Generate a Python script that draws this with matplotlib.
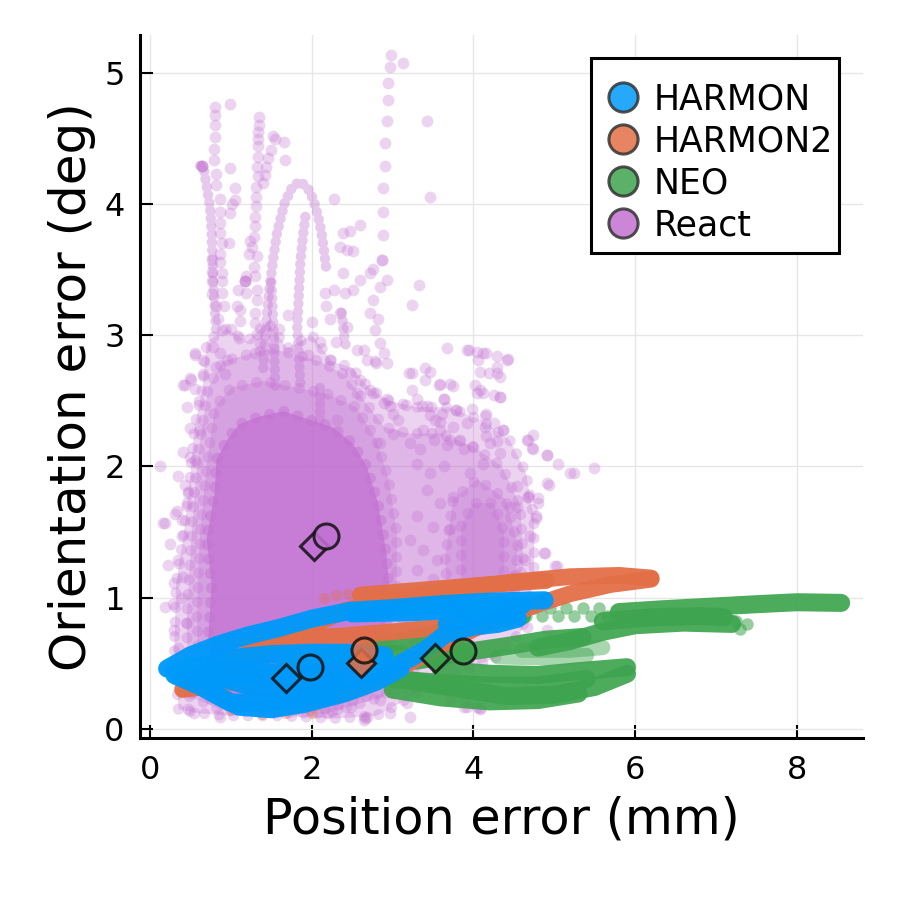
import matplotlib
matplotlib.use("Agg")
import matplotlib.pyplot as plt
from matplotlib.lines import Line2D
from matplotlib.patches import Rectangle

plt.rcParams['font.family'] = ['DejaVu Sans']

# ---------------- data ----------------
series_names = ["HARMON", "HARMON2", "NEO", "React"]
series_colors = ["#009AFA", "#E36F47", "#3EA44E", "#C271D2"]

# summary markers (circle / diamond) per series, same order as series_names
circle_x = [1.98, 2.65, 3.87, 2.18]
circle_y = [0.47, 0.60, 0.59, 1.47]
diamond_x = [1.68, 2.61, 3.52, 2.03]
diamond_y = [0.39, 0.50, 0.54, 1.39]

x_ticks = [0, 2, 4, 6, 8]
y_ticks = [0, 1, 2, 3, 4, 5]

# HARMON trajectories (dense bands)
harmon_tracks = [
    [(0.21, 0.46), (0.5, 0.56), (0.83, 0.64), (1.2, 0.71), (1.6, 0.77), (2.0, 0.84), (2.48, 0.9), (3.0, 0.92), (3.6, 0.95), (4.2, 0.97), (4.88, 0.98)],
    [(2.5, 0.88), (3.3, 0.89), (4.0, 0.92), (4.6, 0.94)],
    [(0.3, 0.44), (0.7, 0.49), (1.0, 0.54), (1.5, 0.57), (2.0, 0.58), (2.5, 0.58), (2.9, 0.56)],
    [(0.3, 0.41), (0.6, 0.33), (0.9, 0.23), (1.1, 0.17), (1.5, 0.15), (1.9, 0.19), (2.4, 0.27), (2.8, 0.36), (3.1, 0.46)],
    [(0.35, 0.45), (0.8, 0.4), (1.2, 0.33), (1.6, 0.29), (2.0, 0.31), (2.5, 0.38), (2.9, 0.44)],
    [(0.5, 0.48), (1.0, 0.47), (1.5, 0.43), (2.0, 0.45), (2.5, 0.5), (2.9, 0.52)],
    [(0.8, 0.27), (1.0, 0.2), (1.4, 0.2), (1.8, 0.24), (2.2, 0.25)],
    [(0.6, 0.38), (1.2, 0.4), (1.8, 0.37), (2.3, 0.35)],
    [(3.1, 0.5), (3.4, 0.6), (3.65, 0.72), (4.0, 0.78), (4.3, 0.8), (4.55, 0.84)],
    [(3.67, 0.8), (4.1, 0.86), (4.5, 0.88)],
]

# HARMON2 trajectories
harmon2_tracks = [
    [(0.45, 0.36), (0.9, 0.48), (1.4, 0.62), (1.9, 0.76), (2.4, 0.9), (3.0, 0.99), (3.7, 1.06), (4.5, 1.12), (5.2, 1.16), (5.8, 1.17), (6.2, 1.15)],
    [(6.2, 1.14), (5.7, 1.1), (5.2, 1.03), (4.8, 0.95), (4.4, 0.86), (4.0, 0.76), (3.6, 0.64), (3.2, 0.5), (2.8, 0.37), (2.4, 0.27), (2.0, 0.22)],
    [(1.2, 0.66), (1.8, 0.69), (2.4, 0.71), (3.0, 0.74), (3.7, 0.78)],
    [(2.6, 1.02), (3.4, 1.06), (4.2, 1.1), (4.9, 1.13)],
    [(0.4, 0.3), (0.8, 0.33), (1.3, 0.4)],
]
harmon2_points = [(1.38, 0.11), (1.67, 0.12), (0.49, 0.35), (0.45, 0.3), (2.15, 1.0), (2.3, 1.02),
                  (2.45, 1.03), (2.6, 1.0), (2.75, 1.02), (2.85, 0.98), (1.0, 0.15), (2.0, 0.12)]

# NEO trajectories
neo_tracks = [
    [(2.7, 0.62), (3.2, 0.68), (3.7, 0.75), (4.2, 0.82), (4.6, 0.86)],
    [(5.8, 0.89), (6.3, 0.91), (6.9, 0.93), (7.5, 0.95), (8.0, 0.965), (8.55, 0.96)],
    [(4.8, 0.62), (5.2, 0.67), (5.6, 0.74), (6.0, 0.79), (6.6, 0.81), (7.2, 0.8)],
    [(5.6, 0.82), (6.2, 0.85), (6.8, 0.86), (7.1, 0.85)],
    [(3.3, 0.52), (3.85, 0.58), (4.4, 0.63), (4.9, 0.68), (5.35, 0.70)],
    [(2.8, 0.42), (3.3, 0.36), (3.9, 0.3), (4.4, 0.25), (5.0, 0.26), (5.5, 0.32), (5.9, 0.42)],
    [(3.0, 0.3), (3.6, 0.24), (4.2, 0.21), (4.8, 0.22), (5.3, 0.27)],
    [(3.6, 0.45), (4.2, 0.42), (4.8, 0.41), (5.3, 0.44), (5.9, 0.47)],
    [(3.0, 0.38), (3.6, 0.35), (4.2, 0.33), (4.8, 0.33), (5.4, 0.38)],
    [(1.7, 0.55), (2.4, 0.56), (3.1, 0.57)],
]
neo_light_tracks = [
    [(4.3, 0.55), (4.9, 0.54), (5.4, 0.56)],
    [(4.6, 0.6), (5.2, 0.6), (5.6, 0.62)],
]
neo_points = [(4.65, 0.86), (4.85, 0.86), (5.05, 0.86), (5.25, 0.86), (5.45, 0.86), (5.65, 0.86),
              (4.75, 0.92), (4.95, 0.92), (5.15, 0.92), (5.35, 0.92), (5.55, 0.92),
              (7.25, 0.82), (7.38, 0.8), (7.3, 0.76)]

# React: density envelopes of the dense cloud (outer to inner), then the cluster near x=4
react_density_levels = [
    [(0.35, 0.15), (0.3, 0.6), (0.32, 1.1), (0.42, 1.5), (0.5, 1.95), (0.55, 2.3), (0.65, 2.6), (0.7, 2.95),
     (0.95, 3.05), (1.2, 2.95), (1.45, 3.1), (1.7, 2.9), (2.0, 3.0), (2.25, 2.8), (2.5, 2.75), (2.7, 2.6),
     (2.95, 2.5), (3.3, 2.45), (3.7, 2.45), (4.1, 2.35), (4.45, 2.2), (4.65, 1.95), (4.75, 1.6), (4.75, 1.15),
     (4.6, 0.75), (4.3, 0.55), (3.9, 0.45), (3.5, 0.35), (3.1, 0.2), (2.8, 0.1), (2.3, 0.08), (1.6, 0.1),
     (1.0, 0.1), (0.6, 0.12)],
    [(0.48, 0.25), (0.45, 0.8), (0.5, 1.35), (0.55, 1.8), (0.62, 2.2), (0.72, 2.6), (0.9, 2.8), (1.2, 2.85),
     (1.5, 2.9), (1.8, 2.85), (2.1, 2.8), (2.4, 2.7), (2.65, 2.5), (2.9, 2.3), (3.2, 2.25), (3.6, 2.25),
     (4.0, 2.15), (4.35, 2.0), (4.58, 1.7), (4.62, 1.25), (4.45, 0.9), (4.1, 0.75), (3.6, 0.75), (3.3, 0.7),
     (3.15, 0.5), (2.9, 0.25), (2.2, 0.12), (1.5, 0.12), (0.9, 0.14)],
    [(0.6, 0.3), (0.58, 0.9), (0.62, 1.5), (0.7, 2.0), (0.8, 2.45), (1.0, 2.6), (1.4, 2.65), (1.8, 2.6),
     (2.2, 2.55), (2.55, 2.45), (2.8, 2.2), (2.95, 1.9), (3.05, 1.5), (3.05, 1.0), (2.95, 0.6), (2.7, 0.25),
     (2.1, 0.14), (1.3, 0.15), (0.8, 0.2)],
    [(3.7, 0.85), (3.65, 1.3), (3.75, 1.75), (4.05, 1.9), (4.4, 1.75), (4.55, 1.4), (4.5, 1.0), (4.2, 0.8)],
    [(3.85, 1.1), (3.85, 1.55), (4.0, 1.72), (4.25, 1.72), (4.38, 1.5), (4.38, 1.2), (4.2, 1.05), (3.95, 1.02)],
]
# React: saturated core
react_core = [(0.8, 0.3), (0.72, 0.7), (0.76, 1.1), (0.7, 1.45), (0.8, 1.8), (0.82, 2.05), (0.95, 2.2),
              (1.1, 2.32), (1.35, 2.38), (1.65, 2.42), (1.95, 2.36), (2.25, 2.3), (2.5, 2.18), (2.68, 2.0),
              (2.82, 1.72), (2.92, 1.35), (2.97, 1.0), (2.85, 0.6), (2.6, 0.3), (2.0, 0.18), (1.4, 0.2),
              (1.0, 0.22)]

# React: dense streaks (closely spaced samples)
react_streaks = [
    [(1.40, 2.75), (1.43, 3.06), (1.47, 3.32), (1.52, 3.57), (1.57, 3.78), (1.66, 4.0), (1.76, 4.13), (1.855, 4.17),
     (1.95, 4.12), (2.02, 4.03), (2.08, 3.9), (2.12, 3.78), (2.15, 3.65), (2.18, 3.5)],
    [(1.92, 3.9), (1.89, 3.75), (1.86, 3.57), (1.84, 3.32), (1.82, 3.06), (1.84, 2.85), (1.86, 2.6)],
    [(0.62, 4.29), (0.66, 4.28), (0.70, 4.13), (0.74, 3.98), (0.76, 3.8), (0.77, 3.6), (0.78, 3.4), (0.8, 3.2), (0.82, 3.0)],
    [(2.37, 3.17), (2.4, 3.0), (2.43, 2.88)],
    [(2.1, 2.6), (2.1, 2.35)],
    [(1.50, 3.4), (1.53, 3.0), (1.55, 2.6)],
]

# React: individual scattered samples
react_points = [
    (0.80, 4.74), (0.99, 4.76), (0.80, 4.68), (0.80, 4.60), (0.80, 4.51), (0.79, 4.42), (0.79, 4.33), (0.99, 4.27),
    (0.82, 4.23), (0.82, 4.14), (0.86, 4.04), (0.86, 3.94), (0.99, 3.93), (0.86, 3.85), (0.86, 3.78), (0.89, 3.70),
    (0.97, 3.70), (0.86, 3.62), (0.76, 3.57), (0.86, 3.56), (0.89, 3.47), (0.76, 3.48), (0.89, 3.41), (0.76, 3.41),
    (0.89, 3.32), (0.76, 3.31), (0.91, 3.22), (0.82, 3.22), (0.84, 3.12), (0.89, 3.04), (0.78, 2.91), (0.86, 2.86),
    (0.95, 2.81), (0.82, 2.76), (0.93, 2.70),
    (0.56, 2.86), (0.51, 2.66), (0.43, 2.62), (0.66, 2.81), (0.56, 2.59), (0.41, 2.62), (0.49, 2.67), (0.12, 2.0),
    (0.35, 1.93), (0.41, 2.11), (0.49, 2.29), (0.62, 2.28), (0.31, 1.64), (0.16, 1.57), (0.39, 1.59), (0.47, 1.80),
    (0.56, 2.05), (0.18, 1.57), (0.25, 1.41), (0.33, 1.66), (0.39, 1.47), (0.35, 1.29), (0.29, 1.11), (0.45, 1.72),
    (0.43, 1.86), (0.49, 2.07), (0.55, 2.85), (0.18, 0.93), (0.41, 1.16), (0.45, 0.81), (0.3, 0.75), (0.35, 0.62),
    (0.28, 0.95), (0.4, 1.0), (0.22, 1.25), (0.27, 0.5), (0.45, 2.45), (0.6, 2.5), (0.65, 2.7),
    (1.35, 4.66), (1.35, 4.60), (1.34, 4.55), (1.34, 4.49), (1.33, 4.44), (1.33, 4.36), (1.32, 4.28), (1.33, 4.21),
    (1.31, 4.13), (1.31, 4.05), (1.31, 3.98), (1.30, 3.90), (1.30, 3.83), (1.28, 3.75), (1.26, 3.67), (1.32, 3.60),
    (1.22, 3.62), (1.28, 3.52), (1.19, 3.45), (1.30, 3.45), (1.32, 3.34), (1.32, 3.27), (1.30, 3.17), (1.30, 3.09),
    (1.32, 3.01), (1.36, 2.94), (1.30, 2.86),
    (1.52, 4.52), (1.55, 4.49), (1.50, 4.41), (1.46, 4.35), (1.43, 4.28), (1.65, 4.47), (1.67, 4.33), (1.42, 4.22),
    (1.40, 4.16), (1.05, 4.12), (1.05, 4.03), (1.01, 4.0), (1.11, 3.19), (1.11, 3.11), (1.09, 3.34), (1.24, 3.72),
    (1.19, 3.32), (1.07, 3.22), (1.17, 3.41), (1.17, 3.41), (1.17, 3.41), (0.64, 4.29), (0.64, 4.29), (0.64, 4.29),
    (1.0, 3.05), (1.1, 2.98), (1.6, 3.05), (1.7, 3.15), (2.0, 3.1), (2.1, 2.95), (2.3, 2.95), (1.95, 2.85),
    (2.27, 4.04), (2.39, 3.78), (2.47, 3.79), (2.60, 3.84), (2.35, 3.67), (2.43, 3.65), (2.51, 3.64), (2.76, 3.50),
    (2.87, 3.57), (2.93, 3.42), (2.84, 3.37), (2.76, 3.27), (2.72, 3.17), (2.82, 3.12), (2.78, 3.04), (2.84, 2.94),
    (2.89, 2.86), (2.93, 2.79), (2.56, 2.89), (2.68, 2.81), (2.39, 3.47), (2.41, 3.32), (2.35, 3.17), (2.43, 3.06),
    (2.23, 3.12), (2.18, 3.22), (2.16, 3.32), (2.27, 3.34), (2.51, 3.34), (2.60, 3.42), (2.72, 3.47),
    (2.98, 5.13), (3.13, 5.07), (2.97, 5.04), (2.94, 4.92), (2.94, 4.79), (2.93, 4.63), (2.91, 4.46), (2.90, 4.29),
    (2.88, 4.12), (2.88, 3.94), (2.88, 3.76), (2.87, 3.57),
    (3.42, 4.63), (3.46, 4.05), (3.33, 3.38), (3.24, 3.23),
    (3.67, 2.90), (3.94, 2.89), (4.04, 2.87), (4.16, 2.86), (4.29, 2.84), (4.43, 2.82), (4.06, 2.81), (4.29, 2.76),
    (4.08, 2.72), (4.19, 2.71), (4.33, 2.68), (3.24, 2.71), (3.40, 2.75), (3.46, 2.72), (3.40, 2.66), (3.57, 2.62),
    (3.71, 2.63), (4.02, 2.62), (4.04, 2.56), (4.12, 2.56), (4.25, 2.54), (4.33, 2.53), (3.30, 2.51), (3.63, 2.51),
    (3.17, 2.47), (3.36, 2.46), (3.79, 2.43), (3.98, 2.44), (3.46, 2.39), (3.61, 2.40), (4.14, 2.38), (4.25, 2.33),
    (4.37, 2.28), (4.14, 2.30), (4.16, 2.23), (4.29, 2.19), (3.59, 2.34), (3.75, 2.30), (3.38, 2.28), (3.51, 2.20),
    (3.67, 2.16), (3.84, 2.20), (4.0, 2.15), (4.66, 2.20), (4.74, 2.24), (4.72, 2.14), (4.91, 2.09), (5.05, 2.02),
    (5.24, 1.95), (5.49, 1.99), (4.93, 1.86), (4.68, 1.77), (4.80, 1.76), (4.78, 1.62), (4.54, 1.85), (4.45, 1.69),
    (3.07, 2.35), (3.01, 2.25), (2.84, 2.18), (3.22, 2.18), (2.56, 2.56), (2.60, 2.66), (2.78, 2.80), (2.76, 2.56),
    (2.93, 2.51), (2.97, 2.46), (2.31, 2.35),
    (3.20, 2.71), (3.24, 2.58), (3.42, 2.46), (3.53, 2.35), (3.63, 2.51), (3.92, 2.89), (4.12, 2.86), (4.41, 2.81),
    (4.29, 2.71), (4.08, 2.58), (4.33, 2.53), (4.16, 2.40), (4.37, 2.28), (4.21, 2.18), (4.33, 2.10), (4.12, 2.02),
    (4.68, 2.20), (4.74, 2.13), (4.91, 2.09), (4.91, 1.87), (4.80, 1.72), (4.78, 1.61), (4.89, 1.34), (5.01, 1.24),
    (5.20, 1.95), (4.68, 1.77), (4.54, 1.69), (4.70, 1.47), (4.64, 1.29), (4.33, 1.11), (4.49, 1.16),
    (3.59, 2.63), (3.75, 2.61), (3.79, 2.43), (3.59, 2.28), (3.71, 2.20), (3.92, 2.33), (3.88, 2.13), (3.34, 2.13),
    (3.30, 2.02), (3.46, 1.95), (3.63, 2.0), (3.96, 1.95), (3.42, 1.82), (3.59, 1.72), (3.75, 1.77), (3.30, 1.62),
    (3.50, 1.54), (3.71, 1.52), (3.22, 1.44), (3.38, 1.36), (3.55, 1.29), (3.30, 1.21), (3.50, 1.14), (3.63, 1.06),
    (3.22, 1.01), (3.38, 0.91), (3.13, 0.83), (3.3, 0.7), (3.45, 0.6), (3.6, 0.5), (3.25, 0.45),
    (2.89, 2.48), (3.01, 2.40), (2.72, 2.58), (2.80, 2.79), (2.64, 2.89), (2.47, 2.71), (2.23, 2.81),
    (0.50, 0.27), (0.54, 0.12), (0.87, 0.09), (1.86, 0.17), (2.31, 0.15), (2.48, 0.17), (2.68, 0.09), (2.85, 0.22),
    (3.01, 0.27), (3.18, 0.20), (3.22, 0.30), (2.81, 0.27), (2.72, 0.32), (2.64, 0.07), (2.97, 0.12), (2.19, 0.12),
    (3.71, 0.22), (3.88, 0.17), (4.04, 0.17), (0.47, 0.15), (2.66, 0.08), (3.22, 0.09), (3.90, 0.22), (4.08, 0.15),
    (4.65, 0.30), (4.87, 1.34), (5.03, 1.24), (4.91, 0.75), (4.66, 0.78), (3.92, 0.17), (4.08, 0.16),
]

# ---------------- figure ----------------
fig = plt.figure(figsize=(8.99, 8.99), dpi=100)
ax = fig.add_axes([0.1557, 0.1791, 0.8042, 0.7820])

ax.set_xlim(-0.126, 8.82)
ax.set_ylim(-0.069, 5.286)

C_H, C_H2, C_N, C_R = series_colors
ROUND = dict(solid_capstyle='round', solid_joinstyle='round')
EDGE_DOTS = dict(ls=(0, (0.01, 1.3)), dash_capstyle='round')
CHAIN_DOTS = dict(ls=(0, (0.01, 0.75)), dash_capstyle='round')

# React (drawn first)
for poly in react_density_levels:
    xs = [p[0] for p in poly] + [poly[0][0]]
    ys = [p[1] for p in poly] + [poly[0][1]]
    ax.fill(xs, ys, color=C_R, alpha=0.3, linewidth=0, zorder=2)
    ax.plot(xs, ys, color=C_R, alpha=0.3, lw=8, zorder=2, **EDGE_DOTS)
cx = [p[0] for p in react_core] + [react_core[0][0]]
cy = [p[1] for p in react_core] + [react_core[0][1]]
ax.fill(cx, cy, color=C_R, alpha=0.75, linewidth=0, zorder=2)
ax.plot(cx, cy, color=C_R, alpha=0.45, lw=8, zorder=2, **EDGE_DOTS)
for tr in react_streaks:
    ax.plot([p[0] for p in tr], [p[1] for p in tr], color=C_R, alpha=0.38, lw=7.5, zorder=2, **CHAIN_DOTS)
ax.scatter([p[0] for p in react_points], [p[1] for p in react_points], s=72, color=C_R,
           alpha=0.3, linewidths=0, zorder=2)

# NEO
for tr in neo_light_tracks:
    ax.plot([p[0] for p in tr], [p[1] for p in tr], color=C_N, alpha=0.45, lw=11, zorder=3, **ROUND)
for tr in neo_tracks:
    ax.plot([p[0] for p in tr], [p[1] for p in tr], color=C_N, alpha=0.92, lw=13, zorder=3, **ROUND)
ax.scatter([p[0] for p in neo_points], [p[1] for p in neo_points], s=80, color=C_N,
           alpha=0.55, linewidths=0, zorder=3)

# HARMON2
for tr in harmon2_tracks:
    ax.plot([p[0] for p in tr], [p[1] for p in tr], color=C_H2, alpha=0.95, lw=12, zorder=4, **ROUND)
ax.scatter([p[0] for p in harmon2_points], [p[1] for p in harmon2_points], s=65, color=C_H2,
           alpha=0.35, linewidths=0, zorder=4)

# HARMON
for tr in harmon_tracks:
    ax.plot([p[0] for p in tr], [p[1] for p in tr], color=C_H, alpha=0.97, lw=13, zorder=5, **ROUND)

# summary markers
for i, c in enumerate(series_colors):
    ax.plot(diamond_x[i], diamond_y[i], marker='D', ms=14.5, mfc=c, mec='#111111',
            mew=2.2, alpha=0.85, ls='none', zorder=7)
    ax.plot(circle_x[i], circle_y[i], marker='o', ms=18, mfc=c, mec='#111111',
            mew=2.2, alpha=0.85, ls='none', zorder=7)

# axes styling
ax.set_xticks(x_ticks)
ax.set_yticks(y_ticks)
ax.tick_params(direction='in', length=9.5, width=1.5, labelsize=23, pad=11)
ax.tick_params(axis='x', pad=12)
ax.grid(True, color='#E6E6E6', lw=1.0, zorder=0)
ax.set_axisbelow(True)
for s in ['top', 'right']:
    ax.spines[s].set_visible(False)
for s in ['left', 'bottom']:
    ax.spines[s].set_linewidth(2.2)

ax.set_xlabel("Position error (mm)", fontsize=35.5, labelpad=7)
ax.set_ylabel("Orientation error (deg)", fontsize=36, labelpad=6)

# legend: frame box + entries
frame = Rectangle((591 / 899, 1 - 253 / 899), (839 - 591) / 899, (253 - 58) / 899,
                  transform=fig.transFigure, facecolor='white', edgecolor='black', lw=2.2, zorder=10)
fig.add_artist(frame)
handles = [Line2D([], [], ls='none', marker='o', ms=21, mfc=c, mec='#333333', mew=2.2, alpha=0.85)
           for c in series_colors]
leg = fig.legend(handles, series_names, loc='upper left', bbox_to_anchor=(614.5 / 899, 1 - 82.5 / 899),
                 bbox_transform=fig.transFigure, fontsize=25, frameon=False,
                 handlelength=0.5, handletextpad=0.62, labelspacing=0.23, borderpad=0, borderaxespad=0)
leg.set_zorder(11)

fig.savefig("out.png", dpi=100)
